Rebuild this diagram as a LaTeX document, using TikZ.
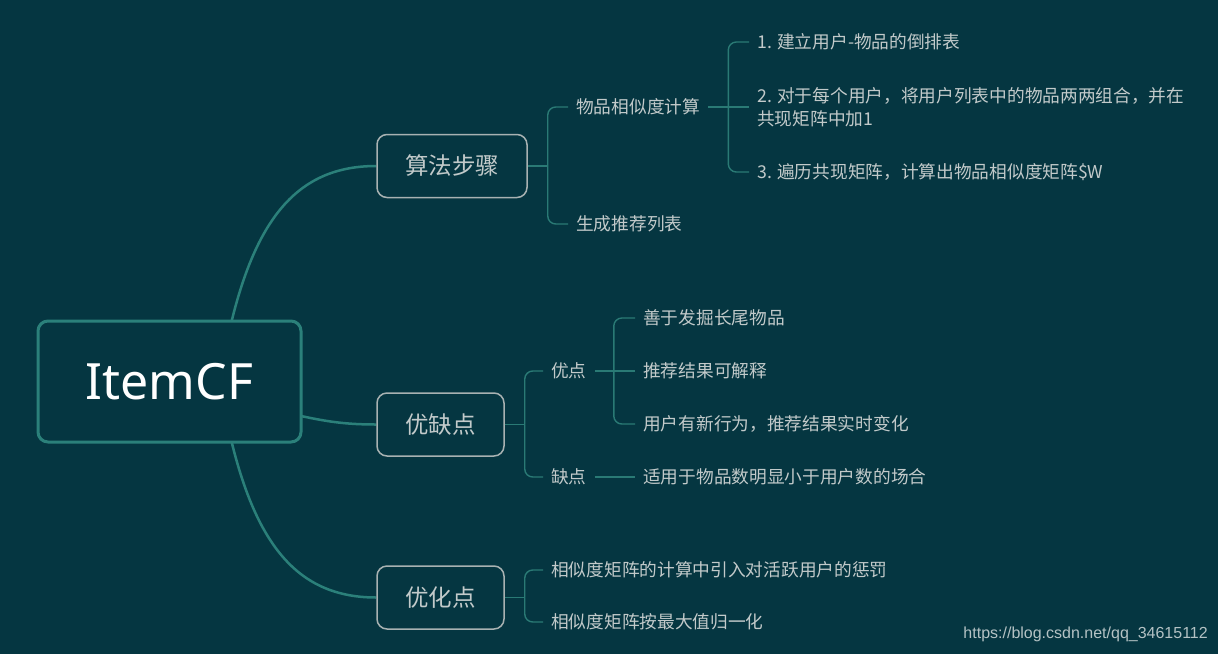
\documentclass[tikz,border=0pt]{standalone}
\usepackage{fontspec}
\setmainfont{Noto Sans CJK SC}
\newfontfamily\rootfont{Noto Sans}
\newfontfamily\wmfont{Liberation Sans}
\definecolor{bgc}{HTML}{053641}
\definecolor{mmteal}{HTML}{2B807A}
\definecolor{subteal}{HTML}{2A7A75}
\definecolor{boxgray}{HTML}{A8B2B2}
\definecolor{txtgray}{HTML}{C2CACA}
\definecolor{wmgray}{HTML}{B4C2C4}
\pgfdeclarelayer{bottom}
\pgfdeclarelayer{background}
\pgfsetlayers{bottom,background,main}
\tikzset{
  rootbox/.style={draw=mmteal, line width=3pt, fill=bgc, rounded corners=10pt,
    minimum width=263pt, minimum height=121pt, inner sep=0pt, text=white,
    font=\rootfont\fontsize{50}{60}\selectfont},
  lonebox/.style={draw=boxgray, line width=1.5pt, fill=bgc, rounded corners=10pt,
    minimum width=127pt, minimum height=63pt, inner sep=0pt, text=txtgray,
    font=\fontsize{23.5}{28}\selectfont},
  leaf/.style={anchor=west, inner sep=0pt, text=txtgray,
    font=\fontsize{17.7}{23}\selectfont},
  mainline/.style={draw=mmteal, line width=2.5pt},
  subline/.style={draw=subteal, line width=1.4pt, rounded corners=8pt},
}
\begin{document}
\begin{tikzpicture}[x=1pt,y=-1pt]
\begin{pgfonlayer}{bottom}
\fill[bgc] (0,0) rectangle (1218,654);
\end{pgfonlayer}
\useasboundingbox (0,0) rectangle (1218,654);

% nodes
\node[rootbox] (root) at (169.5,381.5) {ItemCF};
\node[lonebox, minimum width=150pt] (s1) at (452,166) {算法步骤};
\node[lonebox] (s2) at (440.5,424.5) {优缺点};
\node[lonebox] (s3) at (440.5,597.5) {优化点};

\node[leaf] (a1) at (576,107) {物品相似度计算};
\node[leaf] (a2) at (576,224) {生成推荐列表};
\node[leaf] (a11) at (757,42) {1. 建立用户-物品的倒排表};
\node[leaf, align=left] (a12) at (757,107) {2. 对于每个用户，将用户列表中的物品两两组合，并在\\共现矩阵中加1};
\node[leaf] (a13) at (757,172) {3. 遍历共现矩阵，计算出物品相似度矩阵\$W};

\node[leaf] (b1) at (551,371) {优点};
\node[leaf] (b2) at (551,477) {缺点};
\node[leaf] (b11) at (643,318) {善于发掘长尾物品};
\node[leaf] (b12) at (643,371) {推荐结果可解释};
\node[leaf] (b13) at (643,424) {用户有新行为，推荐结果实时变化};
\node[leaf] (b21) at (643,477) {适用于物品数明显小于用户数的场合};

\node[leaf] (c1) at (551,570) {相似度矩阵的计算中引入对活跃用户的惩罚};
\node[leaf] (c2) at (551,622) {相似度矩阵按最大值归一化};

\node[anchor=east, inner sep=0pt, text=wmgray, font=\wmfont\fontsize{16}{18}\selectfont] (wm) at (1208,634) {https://blog.csdn.net/qq\_34615112};

% connectors
\begin{pgfonlayer}{background}
\draw[mainline] ([xshift=50pt]root.center) .. controls +(25,-152) and +(-87,0) .. (s1.west);
\draw[mainline] ([xshift=80pt,yshift=-23pt]root.center) .. controls +(60,13) and +(-47,0) .. (s2.west);
\draw[mainline] ([xshift=50pt]root.center) .. controls +(25,152) and +(-87,0) .. (s3.west);
\end{pgfonlayer}

% 算法步骤
\draw[subline] (s1.east) -- ([xshift=20pt]s1.east);
\draw[subline] ([xshift=20pt]s1.east) |- ([xshift=-8pt]a1.west);
\draw[subline] ([xshift=20pt]s1.east) |- ([xshift=-8pt]a2.west);
% 物品相似度计算
\draw[subline] ([xshift=8pt]a1.east) -- ([xshift=-8pt]a12.west);
\draw[subline] ([xshift=28pt]a1.east) |- ([xshift=-8pt]a11.west);
\draw[subline] ([xshift=28pt]a1.east) |- ([xshift=-8pt]a13.west);
% 优缺点
\draw[subline] (s2.east) -- ([xshift=20pt]s2.east);
\draw[subline] ([xshift=20pt]s2.east) |- ([xshift=-8pt]b1.west);
\draw[subline] ([xshift=20pt]s2.east) |- ([xshift=-8pt]b2.west);
\draw[subline] ([xshift=8pt]b1.east) -- ([xshift=-8pt]b12.west);
\draw[subline] ([xshift=27pt]b1.east) |- ([xshift=-8pt]b11.west);
\draw[subline] ([xshift=27pt]b1.east) |- ([xshift=-8pt]b13.west);
\draw[subline] ([xshift=8pt]b2.east) -- ([xshift=-8pt]b21.west);
% 优化点
\draw[subline] (s3.east) -- ([xshift=20pt]s3.east);
\draw[subline] ([xshift=20pt]s3.east) |- ([xshift=-8pt]c1.west);
\draw[subline] ([xshift=20pt]s3.east) |- ([xshift=-8pt]c2.west);
\end{tikzpicture}
\end{document}
